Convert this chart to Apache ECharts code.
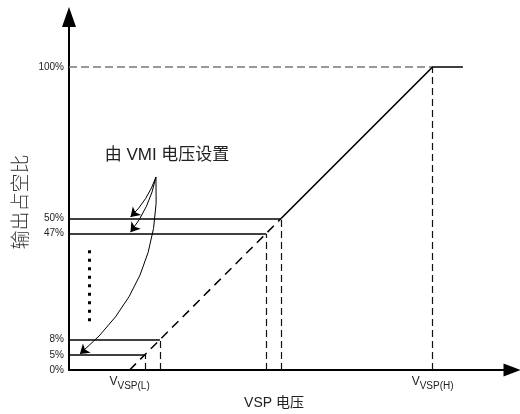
<!DOCTYPE html>
<html>
<head>
<meta charset="utf-8">
<script src="https://cdn.jsdelivr.net/npm/echarts@6/dist/echarts.min.js"></script>
<style>html,body{margin:0;padding:0;background:#fff}#c{width:520px;height:414px}</style>
</head>
<body>
<div id="c"></div>
<script>
// Schematic positions (axis units) and their labels
const yTickVals = [0, 5, 10, 45, 50, 100];
const yTickLabels = ['0%', '5%', '8%', '47%', '50%', '100%'];
const xTickVals = [20, 120];
const xTickLabels = ['VSP(L)', 'VSP(H)'];
// duty-cycle levels set by VMI and the VSP voltage where the ramp reaches them
const levelY = [5, 10, 45, 50];
const levelX = [25, 30, 65, 70];
// ramp: dashed lower part, solid upper part
const rampDashed = [[20, 0], [70, 50]];
const rampSolid = [[70, 50], [120, 100], [130, 100]];
// 100% reference
const fullX = 120, fullY = 100;
// annotation arrows: start point and targets
const arrowStart = [28.7, 63.7];
const arrowEnds = [[20.3, 50.5], [20.3, 45.5], [3.6, 5.3]];
const arrowCurv = [0.12, 0.12, 0.25];
// vertical dots
const dotsLine = [[6.6, 39.5], [6.6, 16]];

const FONT = "'Liberation Sans', Arial, 'Noto Sans CJK SC', sans-serif";
const chart = echarts.init(document.getElementById('c'), null, {renderer: 'canvas'});

const hLines = levelY.map((y, i) => ({coords: [[0, y], [levelX[i], y]]}));
const vLines = levelY.map((y, i) => ({coords: [[levelX[i], 0], [levelX[i], y]]}));
vLines.push({coords: [[fullX, 0], [fullX, fullY]]});

const option = {
  animation: false,
  backgroundColor: '#fff',
  grid: {left: 69, right: 8, top: 17, bottom: 44, containLabel: false},
  xAxis: {
    type: 'value', min: 0, max: 146.2,
    splitLine: {show: false}, axisTick: {show: false},
    axisLine: {show: true, onZero: false, symbol: ['none', 'triangle'], symbolSize: [13, 17],
      lineStyle: {color: '#000', width: 2}},
    axisLabel: {
      customValues: xTickVals, margin: 6,
      formatter: v => '{v|V}{s|' + xTickLabels[xTickVals.indexOf(v)] + '}',
      rich: {
        v: {fontSize: 12, fontFamily: FONT, color: '#222', verticalAlign: 'top', lineHeight: 15},
        s: {fontSize: 10, fontFamily: FONT, color: '#222', verticalAlign: 'bottom', lineHeight: 10}
      }
    }
  },
  yAxis: {
    type: 'value', min: 0, max: 116.5,
    splitLine: {show: false}, axisTick: {show: false},
    axisLine: {show: true, onZero: false, symbol: ['none', 'triangle'], symbolSize: [14, 20],
      lineStyle: {color: '#000', width: 2}},
    axisLabel: {
      customValues: yTickVals, margin: 5,
      fontSize: 10, fontFamily: FONT, color: '#222',
      formatter: v => yTickLabels[yTickVals.indexOf(v)]
    }
  },
  graphic: [
    {type: 'text', x: 22, y: 202, rotation: Math.PI / 2,
     style: {text: '输出占空比', fontSize: 19, fontFamily: FONT, fontWeight: 300, fill: '#333', align: 'center', verticalAlign: 'middle'}},
    {type: 'text', x: 274, y: 403,
     style: {text: 'VSP 电压', fontSize: 14, fontFamily: FONT, fill: '#222', align: 'center', verticalAlign: 'middle'}},
    {type: 'text', x: 167, y: 155,
     style: {text: '由 VMI 电压设置', fontSize: 17, fontFamily: FONT, fill: '#222', align: 'center', verticalAlign: 'middle'}}
  ],
  series: [
    {type: 'lines', coordinateSystem: 'cartesian2d', silent: true, z: 3,
     lineStyle: {color: '#000', width: 1.6, type: 'solid', opacity: 1},
     data: hLines},
    {type: 'lines', coordinateSystem: 'cartesian2d', silent: true, z: 2,
     lineStyle: {color: '#111', width: 1.2, type: [7, 4], opacity: 1},
     data: vLines},
    {type: 'lines', coordinateSystem: 'cartesian2d', silent: true, z: 2,
     lineStyle: {color: '#777', width: 1.5, type: [8, 4], opacity: 1},
     data: [{coords: [[0, fullY], [fullX, fullY]]}]},
    {type: 'lines', coordinateSystem: 'cartesian2d', silent: true, z: 3,
     lineStyle: {color: '#000', width: 1.5, type: [9, 6], opacity: 1},
     data: [{coords: rampDashed}]},
    {type: 'lines', coordinateSystem: 'cartesian2d', polyline: true, silent: true, z: 3,
     lineStyle: {color: '#000', width: 1.6, type: 'solid', opacity: 1},
     data: [{coords: rampSolid}]},
    {type: 'lines', coordinateSystem: 'cartesian2d', silent: true, z: 4,
     symbol: ['none', 'arrow'], symbolSize: [6, 9],
     lineStyle: {color: '#000', width: 1, opacity: 1},
     data: arrowEnds.map((e, i) => ({coords: [arrowStart, e], lineStyle: {curveness: arrowCurv[i]}}))},
    {type: 'lines', coordinateSystem: 'cartesian2d', silent: true, z: 4,
     lineStyle: {color: '#000', width: 3, type: [3, 5.5], opacity: 1},
     data: [{coords: dotsLine}]}
  ]
};
chart.setOption(option);
</script>
</body>
</html>
